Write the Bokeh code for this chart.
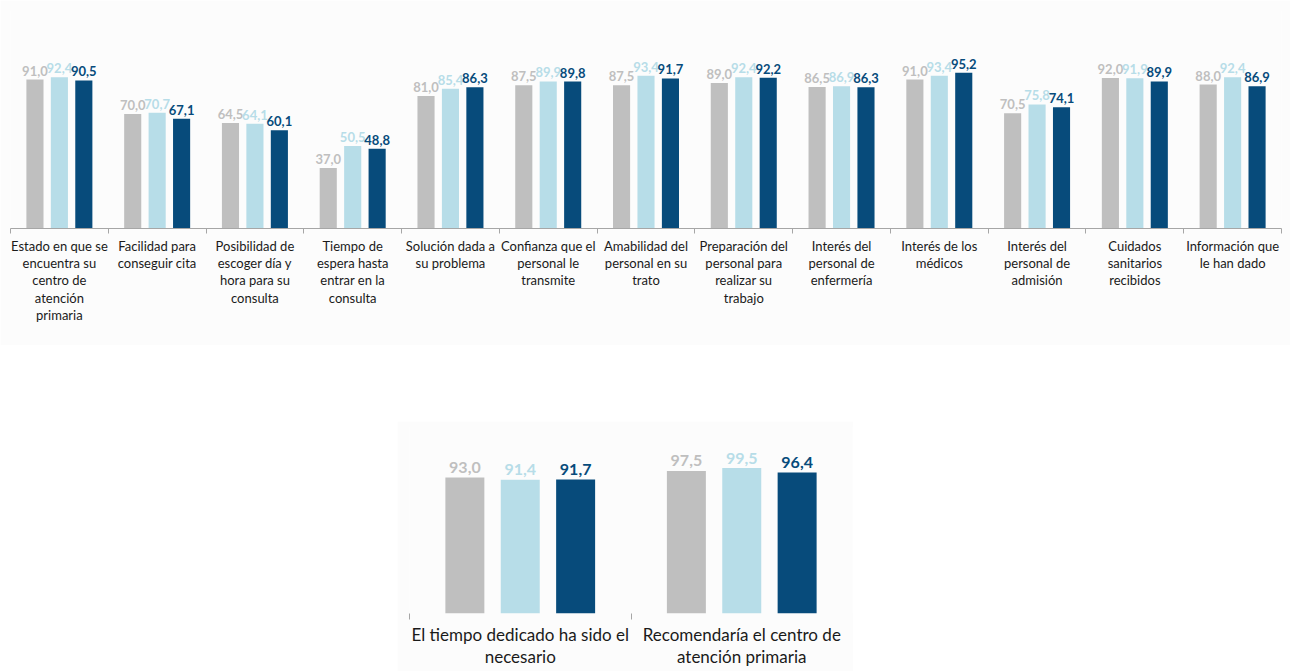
from bokeh.plotting import figure
from bokeh.models import ColumnDataSource, Range1d, LinearAxis, FixedTicker, Spacer
from bokeh.layouts import column, row
from bokeh.transform import dodge
from bokeh.core.properties import value
from bokeh.embed import file_html
from bokeh.resources import INLINE

# ---------------- data ----------------
categories_top = [
    "Estado en que se\nencuentra su\ncentro de\natención\nprimaria",
    "Facilidad para\nconseguir cita",
    "Posibilidad de\nescoger día y\nhora para su\nconsulta",
    "Tiempo de\nespera hasta\nentrar en la\nconsulta",
    "Solución dada a\nsu problema",
    "Confianza que el\npersonal le\ntransmite",
    "Amabilidad del\npersonal en su\ntrato",
    "Preparación del\npersonal para\nrealizar su\ntrabajo",
    "Interés del\npersonal de\nenfermería",
    "Interés de los\nmédicos",
    "Interés del\npersonal de\nadmisión",
    "Cuidados\nsanitarios\nrecibidos",
    "Información que\nle han dado",
]
serie_1_top = [91.0, 70.0, 64.5, 37.0, 81.0, 87.5, 87.5, 89.0, 86.5, 91.0, 70.5, 92.0, 88.0]
serie_2_top = [92.4, 70.7, 64.1, 50.5, 85.4, 89.9, 93.4, 92.4, 86.9, 93.4, 75.8, 91.9, 92.4]
serie_3_top = [90.5, 67.1, 60.1, 48.8, 86.3, 89.8, 91.7, 92.2, 86.3, 95.2, 74.1, 89.9, 86.9]

categories_bottom = [
    "El tiempo dedicado ha sido el\nnecesario",
    "Recomendaría el centro de\natención primaria",
]
serie_1_bottom = [93.0, 97.5]
serie_2_bottom = [91.4, 99.5]
serie_3_bottom = [91.7, 96.4]

colors = ["#bfbfbf", "#b7dde8", "#074b7b"]
FONT = "Lato"
BG = "#fcfcfc"


def fmt(v):
    return f"{v:.1f}".replace(".", ",")


def build(cats, series, width, height, borders, y_end, bar_w, off, val_size,
          val_gap, lab_size, lab_lh, standoff, tick_out, minor_ticks, axis_line):
    n = len(cats)
    p = figure(width=width, height=height, x_range=Range1d(0, n), y_range=Range1d(0, y_end),
               x_axis_location=None, y_axis_location=None, toolbar_location=None,
               output_backend="svg", min_border_left=borders[0], min_border_right=borders[1],
               min_border_top=borders[2], min_border_bottom=borders[3],
               background_fill_color=BG, border_fill_color=BG, outline_line_color=None)
    p.grid.visible = False
    centers = [i + 0.5 for i in range(n)]
    for k, (vals, col) in enumerate(zip(series, colors)):
        src = ColumnDataSource(dict(x=centers, top=vals, label=[fmt(v) for v in vals]))
        o = (k - 1) * off
        p.vbar(x=dodge("x", o), top="top", width=bar_w, bottom=0, source=src,
               fill_color=col, line_color=None)
        p.text(x=dodge("x", o), y="top", text="label", source=src, text_align="center",
               text_baseline="alphabetic", y_offset=-val_gap, text_font=value(FONT),
               text_font_style="bold", text_font_size=val_size, text_color=col)
    ax = LinearAxis(ticker=FixedTicker(ticks=centers, minor_ticks=minor_ticks),
                    major_label_overrides={c: lab for c, lab in zip(centers, cats)})
    ax.major_tick_line_color = None
    ax.major_tick_out = 0
    ax.major_tick_in = 0
    ax.minor_tick_out = tick_out
    ax.minor_tick_in = 0
    ax.minor_tick_line_color = "#a6a6a6"
    ax.axis_line_color = axis_line
    ax.major_label_text_font = FONT
    ax.major_label_text_font_size = lab_size
    ax.major_label_text_color = "#1a1a1a"
    ax.major_label_text_line_height = lab_lh
    ax.major_label_standoff = standoff
    ax.major_label_orientation = "horizontal"
    p.add_layout(ax, "below")
    return p


p1 = build(categories_top, [serie_1_top, serie_2_top, serie_3_top], 1290, 345,
           (10, 9, 10, 117), 133.25, 0.175, 0.25, "13px", 9, "13px", 1.09, 4, 5,
           list(range(len(categories_top) + 1)), "#a6a6a6")

p2 = build(categories_bottom, [serie_1_bottom, serie_2_bottom, serie_3_bottom], 456, 250,
           (12, 1, 5, 58), 127.9, 0.176, 0.25, "16px", 10, "17px", 1.08, 4, 6,
           [0, 1], None)

layout = column(p1, Spacer(height=76), row(Spacer(width=397), p2))

open("out.html", "w").write(file_html(layout, INLINE))
